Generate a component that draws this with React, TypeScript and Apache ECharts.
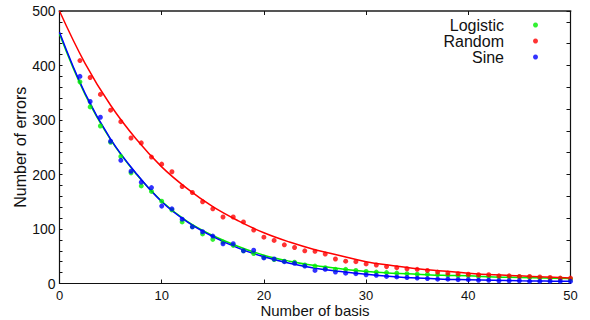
import React, { useEffect, useRef } from "react";
import * as echarts from "echarts";

const basis = [2, 3, 4, 5, 6, 7, 8, 9, 10, 11, 12, 13, 14, 15, 16, 17, 18, 19, 20, 21, 22, 23, 24, 25, 26, 27, 28, 29, 30, 31, 32, 33, 34, 35, 36, 37, 38, 39, 40, 41, 42, 43, 44, 45, 46, 47, 48, 49, 50];
const logistic = [370, 324, 289, 259, 233, 203, 179, 169, 151, 135, 113, 104, 91, 81, 76, 70, 60, 55, 48, 44, 41, 39, 34, 32, 29, 26, 26, 24, 22, 21, 20, 19, 18, 17, 17, 16, 15, 14, 14, 13, 13, 12, 12, 12, 11, 10, 9, 9, 8];
const random = [409, 378, 347, 318, 297, 267, 258, 232, 219, 205, 178, 167, 150, 137, 122, 122, 113, 98, 85, 79, 71, 66, 60, 59, 54, 45, 41, 40, 36, 34, 31, 29, 27, 26, 24, 21, 19, 18, 17, 16, 16, 14, 14, 13, 13, 12, 11, 10, 10];
const sine = [380, 334, 305, 261, 226, 206, 186, 176, 142, 137, 118, 104, 95, 87, 73, 73, 60, 61, 47, 45, 40, 37, 32, 24, 26, 21, 19, 18, 16, 15, 13, 12, 11, 10, 9, 8, 8, 7, 7, 6, 6, 5, 5, 5, 4, 4, 4, 4, 4];

const fitX = [0, 2.5, 5, 7.5, 10, 12.5, 15, 17.5, 20, 22.5, 25, 27.5, 30, 32.5, 35, 37.5, 40, 42.5, 45, 47.5, 50];
const fitLogistic = [458, 347, 264, 201, 151, 114, 88, 68, 52, 41, 33, 27, 22, 19, 17, 15, 14, 12, 11, 10, 9];
const fitRandom = [500, 404, 327, 265, 214, 174, 141, 115, 93, 76, 62, 51, 40, 33, 27, 23, 19, 16, 14, 12, 10];
const fitSine = [461, 349, 265, 202, 150, 113, 86, 65, 49, 37, 28, 22, 17, 13, 10, 8, 7, 6, 5, 4.5, 4];

const seriesNames = ["Logistic", "Random", "Sine"];
const colors = ["#00ee00", "#ff0000", "#0000ff"];

const FONT = "'Liberation Sans', Arial, sans-serif";

export default function App() {
  const ref = useRef<HTMLDivElement>(null);
  useEffect(() => {
    const chart = echarts.init(ref.current!, null, { renderer: "svg" });
    const pts = [logistic, random, sine];
    const fits = [fitLogistic, fitRandom, fitSine];
    const series: any[] = [];
    fits.forEach((f, i) => {
      series.push({
        name: seriesNames[i] + " fit",
        type: "line",
        data: fitX.map((x, k) => [x, f[k]]),
        showSymbol: false,
        smooth: 0.4,
        lineStyle: { color: colors[i], width: 1.5 },
        z: 2 + i,
        silent: true,
      });
    });
    pts.forEach((p, i) => {
      series.push({
        name: seriesNames[i],
        type: "scatter",
        data: basis.map((x, k) => [x, p[k]]),
        symbol: "circle",
        symbolSize: 5,
        itemStyle: { color: colors[i] },
        z: 5 + i,
      });
    });
    chart.setOption({
      animation: false,
      textStyle: { fontFamily: FONT },
      grid: { left: 59.5, right: 19.5, top: 11, bottom: 36.5, containLabel: false, outerBoundsMode: "none" },
      legend: {
        data: seriesNames,
        orient: "vertical",
        align: "right",
        right: 47,
        top: 12,
        itemWidth: 5,
        itemHeight: 5,
        itemGap: 0,
        icon: "circle",
        textStyle: {
          fontFamily: FONT,
          fontSize: 16,
          color: "#111",
          lineHeight: 16,
          padding: [0, 24, 0, 0],
        },
      },
      xAxis: [
        {
          type: "value",
          min: 0,
          max: 50,
          interval: 10,
          position: "bottom",
          name: "Number of basis",
          nameLocation: "middle",
          nameGap: 19,
          nameMoveOverlap: false,
          nameTextStyle: { fontFamily: FONT, fontSize: 15, color: "#111", lineHeight: 15 },
          axisLine: { show: true, onZero: false, lineStyle: { color: "#111", width: 1.2 } },
          axisTick: { show: true, inside: true, length: 4, lineStyle: { color: "#111" } },
          axisLabel: { fontFamily: FONT, fontSize: 13, color: "#111", margin: 5, lineHeight: 13 },
          splitLine: { show: false },
        },
        {
          type: "value",
          min: 0,
          max: 50,
          interval: 10,
          position: "top",
          axisLine: { show: true, onZero: false, lineStyle: { color: "#555", width: 2 } },
          axisTick: { show: true, inside: true, length: 4, lineStyle: { color: "#111" } },
          axisLabel: { show: false },
          splitLine: { show: false },
        },
      ],
      yAxis: [
        {
          type: "value",
          min: 0,
          max: 500,
          interval: 100,
          position: "left",
          name: "Number of errors",
          nameLocation: "middle",
          nameGap: 31,
          nameMoveOverlap: false,
          nameTextStyle: { fontFamily: FONT, fontSize: 16, color: "#111" },
          axisLine: { show: true, onZero: false, lineStyle: { color: "#111", width: 1.2 } },
          axisTick: { show: true, inside: true, length: 3, lineStyle: { color: "#111" } },
          minorTick: { show: true, splitNumber: 5, length: 3, lineStyle: { color: "#111" } },
          axisLabel: { fontFamily: FONT, fontSize: 14, color: "#111", margin: 4 },
          splitLine: { show: false },
        },
        {
          type: "value",
          min: 0,
          max: 500,
          interval: 40,
          position: "right",
          axisLine: { show: true, onZero: false, lineStyle: { color: "#111", width: 1.2 } },
          axisTick: { show: true, inside: true, length: 4, lineStyle: { color: "#111" } },
          axisLabel: { show: false },
          splitLine: { show: false },
        },
      ],
      series,
    });
    return () => chart.dispose();
  }, []);
  return <div ref={ref} style={{ position: "absolute", left: 0, top: 0, width: 590, height: 320 }} />;
}
